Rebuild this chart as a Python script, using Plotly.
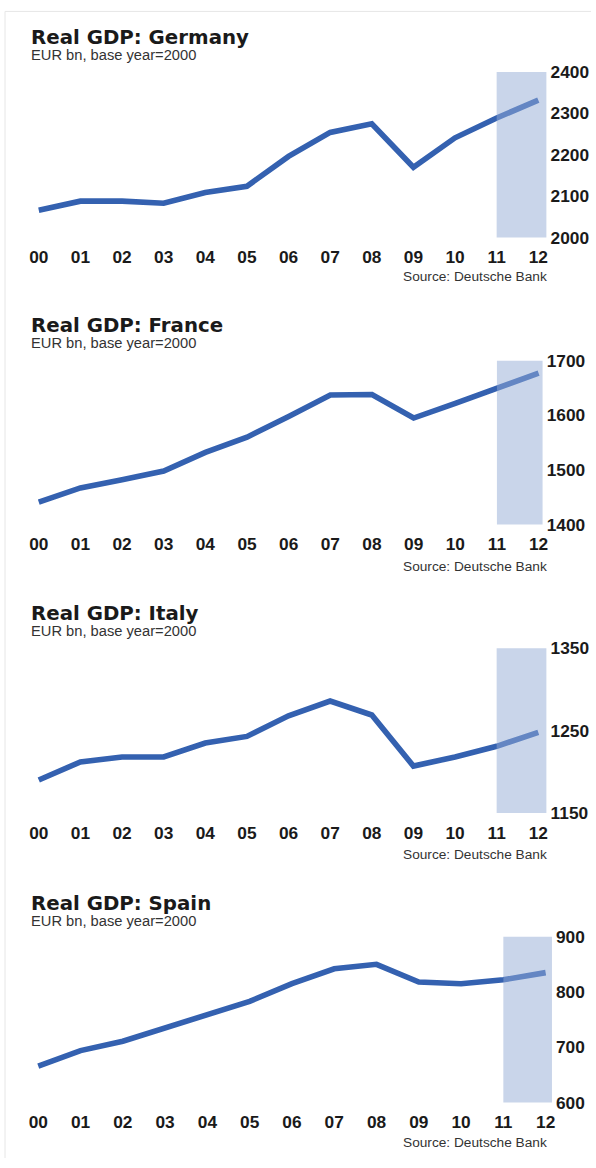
import plotly.graph_objects as go

# Real GDP, EUR bn (base year 2000)
years = list(range(13))
year_labels = ["00", "01", "02", "03", "04", "05", "06", "07", "08", "09", "10", "11", "12"]
countries = ["Germany", "France", "Italy", "Spain"]
germany = [2066, 2088, 2088, 2083, 2109, 2124, 2196, 2254, 2275, 2170, 2241, 2289, 2332]
france = [1441, 1467, 1482, 1498, 1532, 1560, 1598, 1637, 1638, 1595, 1622, 1650, 1677]
italy = [1190, 1212, 1218, 1218, 1235, 1243, 1268, 1286, 1269, 1207, 1218, 1231, 1248]
spain = [666, 694, 711, 735, 758, 783, 815, 842, 850, 818, 815, 822, 835]
y_ranges = [(2000, 2400), (1400, 1700), (1150, 1350), (600, 900)]
y_tick0 = [2000, 1400, 1150, 600]
forecast_start = 11  # shaded forecast years

series = [germany, france, italy, spain]

W, H = 596, 1168

# panel geometry in target pixels: plot top/bottom, x of year 00 and 12,
# end of x range, title row, source row
panels = [
    dict(top=70.7, bottom=236.7, x00=38.5, x12=534.7, xend=12.2, title_y=36.5, src_y=276),
    dict(top=360, bottom=524.3, x00=38.5, x12=535, xend=12.1, title_y=325, src_y=566),
    dict(top=648.3, bottom=813.3, x00=38.5, x12=534.7, xend=12.2, title_y=613.5, src_y=855),
    dict(top=937.3, bottom=1103.5, x00=38, x12=542, xend=12.15, title_y=904.5, src_y=1144),
]

LINE = "#3461b0"
TXT = "#1a1a1a"
SANS = "Liberation Sans, Arial, sans-serif"

# the snapshot comes out slightly shrunk and pushed down; undo that
K = 0.985
DY = 8.6


def px(x):
    return x / K / W


def py(y):
    return 1 - (y - DY) / K / H


def fs(size):
    return round(size / K, 1)


fig = go.Figure()
annotations = []
shapes = []

for i, (name, vals, rng, t0, p) in enumerate(zip(countries, series, y_ranges, y_tick0, panels)):
    n = "" if i == 0 else str(i + 1)
    xa, ya = "x" + n, "y" + n
    unit = (p["x12"] - p["x00"]) / 12
    left = p["x00"] - 0.25 * unit
    right = p["x12"] + (p["xend"] - 12) * unit

    fig.add_trace(go.Scatter(
        x=years, y=vals, mode="lines", xaxis=xa, yaxis=ya,
        line=dict(color=LINE, width=5.6), hoverinfo="skip", showlegend=False,
    ))

    fig.update_layout({
        "xaxis" + n: dict(
            domain=[px(left), px(right)], range=[-0.25, p["xend"]],
            anchor=ya, tickvals=years, ticktext=year_labels,
            ticks="outside", ticklen=4, tickcolor="rgba(0,0,0,0)",
            showgrid=False, zeroline=False, showline=False,
            tickfont=dict(family=SANS, size=fs(17), color=TXT, weight="bold"),
            fixedrange=True,
        ),
        "yaxis" + n: dict(
            domain=[py(p["bottom"]), py(p["top"])], range=list(rng),
            anchor=xa, side="right", tick0=t0, dtick=100, ticks="",
            ticklabelstandoff=3,
            showgrid=False, zeroline=False, showline=False,
            tickfont=dict(family=SANS, size=fs(17), color=TXT, weight="bold"),
            fixedrange=True,
        ),
    })

    # forecast shading, drawn over the line
    shapes.append(dict(
        type="rect", xref=xa, yref=ya + " domain",
        x0=forecast_start, x1=p["xend"], y0=0, y1=1,
        fillcolor="rgb(147,171,213)", opacity=0.5, line=dict(width=0), layer="above",
    ))

    annotations += [
        dict(text="<b>Real GDP: " + name + "</b>", xref="paper", yref="paper",
             x=px(29), y=py(p["title_y"]), xanchor="left", yanchor="middle",
             showarrow=False, font=dict(family="DejaVu Sans", size=fs(19.5), color=TXT)),
        dict(text="EUR bn, base year=2000", xref="paper", yref="paper",
             x=px(29), y=py(p["title_y"] + 17.5), xanchor="left", yanchor="middle",
             showarrow=False, font=dict(family=SANS, size=fs(14.5), color="#333333")),
        dict(text="Source: Deutsche Bank", xref="paper", yref="paper",
             x=px(545), y=py(p["src_y"]), xanchor="right", yanchor="middle",
             showarrow=False, font=dict(family=SANS, size=fs(13.5), color="#333333")),
    ]

# faint frame on the left and top edges
shapes += [
    dict(type="line", xref="paper", yref="paper", x0=px(5), x1=px(5), y0=py(10), y1=0,
         line=dict(color="#e6e6e6", width=1)),
    dict(type="line", xref="paper", yref="paper", x0=px(5), x1=1, y0=py(10), y1=py(10),
         line=dict(color="#e6e6e6", width=1)),
]

fig.update_layout(
    width=W, height=H,
    margin=dict(l=0, r=0, t=0, b=0),
    paper_bgcolor="white", plot_bgcolor="white",
    annotations=annotations, shapes=shapes,
)

# pin the graph to the window corner so the page is exactly 596x1168
pin = ("document.body.style.margin='0';document.body.style.overflow='hidden';"
       "var g=document.getElementById('{plot_id}');"
       "g.style.position='fixed';g.style.top='0';g.style.left='0';")
fig.write_html("out.html", post_script=pin, config={"displayModeBar": False})
